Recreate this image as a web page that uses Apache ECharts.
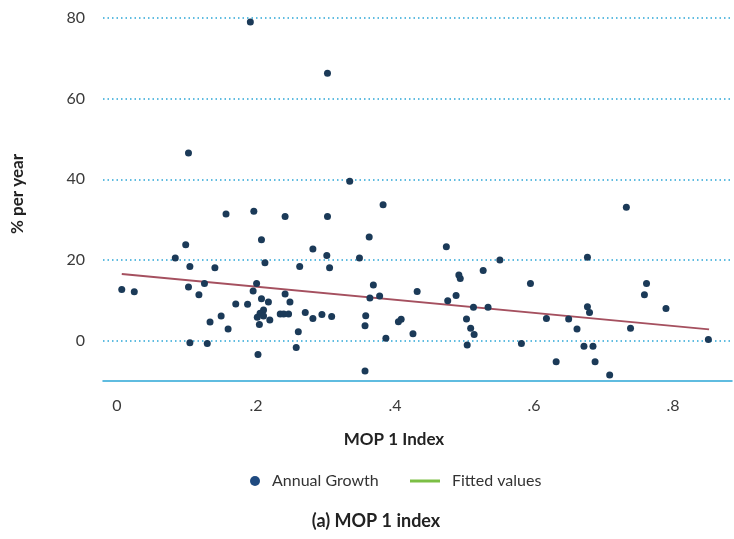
<!DOCTYPE html>
<html>
<head>
<meta charset="utf-8">
<script src="https://cdn.jsdelivr.net/npm/echarts@6/dist/echarts.min.js"></script>
<style>
  html, body { margin: 0; padding: 0; background: #fff; }
  #chart { width: 734px; height: 539px; }
</style>
</head>
<body>
<div id="chart"></div>
<script>
// MOP 1 index vs annual growth (% per year)
const mopIndex = [
  0.192, 0.303, 0.103, 0.335, 0.383, 0.197, 0.157, 0.242, 0.303, 0.733,
  0.363, 0.208, 0.099, 0.474, 0.282, 0.302, 0.677, 0.084, 0.349, 0.551,
  0.213, 0.105, 0.141, 0.263, 0.306, 0.527, 0.492, 0.494, 0.595, 0.762,
  0.126, 0.201, 0.369, 0.103, 0.007, 0.025, 0.432, 0.196, 0.242, 0.759,
  0.118, 0.488, 0.378, 0.364, 0.208, 0.218, 0.249, 0.476, 0.171, 0.188,
  0.677, 0.513, 0.534, 0.790, 0.211, 0.680, 0.271, 0.206, 0.235, 0.240,
  0.247, 0.295, 0.150, 0.211, 0.202, 0.309, 0.358, 0.282, 0.618, 0.503,
  0.650, 0.220, 0.409, 0.405, 0.134, 0.205, 0.357, 0.509, 0.662, 0.739,
  0.160, 0.261, 0.426, 0.514, 0.387, 0.851, 0.105, 0.130, 0.582, 0.504,
  0.672, 0.685, 0.258, 0.203, 0.632, 0.688, 0.357, 0.709
];
const annualGrowth = [
  79.0, 66.3, 46.5, 39.5, 33.7, 32.1, 31.4, 30.8, 30.8, 33.1,
  25.7, 25.0, 23.8, 23.3, 22.7, 21.1, 20.7, 20.5, 20.5, 20.0,
  19.3, 18.4, 18.1, 18.4, 18.1, 17.4, 16.3, 15.4, 14.2, 14.2,
  14.2, 14.2, 13.8, 13.3, 12.7, 12.1, 12.2, 12.3, 11.6, 11.4,
  11.4, 11.2, 11.1, 10.6, 10.4, 9.6, 9.6, 9.9, 9.1, 9.0,
  8.4, 8.3, 8.3, 8.0, 7.6, 7.0, 7.0, 6.8, 6.6, 6.6,
  6.6, 6.5, 6.1, 6.1, 5.8, 6.0, 6.2, 5.5, 5.5, 5.4,
  5.4, 5.1, 5.3, 4.7, 4.6, 4.0, 3.7, 3.1, 2.9, 3.1,
  2.9, 2.2, 1.7, 1.5, 0.6, 0.3, -0.5, -0.7, -0.7, -1.1,
  -1.4, -1.4, -1.7, -3.4, -5.2, -5.2, -7.5, -8.5
];
// Linear fit end points
const fittedX = [0.007, 0.852];
const fittedY = [16.5, 2.8];
// Labelled y ticks
const yTickLabels = [0, 20, 40, 60, 80];

const FONT = 'Lato';
const gridBlue = '#2ba6d6';
const legendText = { fontFamily: FONT, fontSize: 16, color: '#333', padding: [0, 0, 0, 7] };

const chart = echarts.init(document.getElementById('chart'), null, { renderer: 'canvas' });

chart.setOption({
  animation: false,
  backgroundColor: '#ffffff',
  grid: { left: 103, right: 2, top: 18, bottom: 158 },
  xAxis: {
    type: 'value',
    min: -0.02,
    max: 0.885,
    splitNumber: 5,
    axisLine: { show: true, onZero: false, lineStyle: { color: gridBlue, width: 1.5 } },
    axisTick: { show: false },
    splitLine: { show: false },
    axisLabel: {
      showMinLabel: false,
      showMaxLabel: false,
      margin: 17,
      color: '#3a3a3a',
      fontFamily: FONT,
      fontSize: 16,
      formatter: v => {
        const r = Math.round(v * 10) / 10;
        if (Math.abs(r - v) > 1e-6) return '';
        return r === 0 ? '0' : r.toFixed(1).replace(/^0/, '');
      }
    }
  },
  yAxis: {
    type: 'value',
    min: -10,
    max: 80,
    interval: 10,
    axisLine: { show: false },
    axisTick: { show: false },
    splitLine: {
      show: true,
      lineStyle: { color: ['transparent', gridBlue], width: 1.5, type: [1.5, 3] }
    },
    axisLabel: {
      margin: 18,
      color: '#3a3a3a',
      fontFamily: FONT,
      fontSize: 16,
      formatter: v => (yTickLabels.indexOf(v) >= 0 ? String(v) : '')
    }
  },
  legend: [
    {
      left: 245,
      top: 468,
      itemWidth: 10,
      itemHeight: 10,
      textStyle: legendText,
      data: [{ name: 'Annual Growth', icon: 'circle', itemStyle: { color: '#1f4a80' } }]
    },
    {
      left: 405,
      top: 468,
      itemWidth: 30,
      itemHeight: 10,
      textStyle: legendText,
      data: [{ name: 'Fitted values', icon: 'path://M0 0H30V3H0Z', itemStyle: { color: '#7cbf45' } }]
    }
  ],
  series: [
    {
      name: 'Annual Growth',
      type: 'scatter',
      symbolSize: 7,
      itemStyle: { color: '#1b3a58', opacity: 1 },
      data: mopIndex.map((x, i) => [x, annualGrowth[i]]),
      z: 3
    },
    {
      name: 'Fitted values',
      type: 'line',
      symbol: 'none',
      lineStyle: { color: '#a5505f', width: 2 },
      itemStyle: { color: '#a5505f' },
      data: fittedX.map((x, i) => [x, fittedY[i]]),
      z: 2
    }
  ],
  graphic: [
    {
      type: 'text', x: 18, y: 194, rotation: Math.PI / 2,
      style: { text: '% per year', font: 'bold 17px Lato', fill: '#222', textAlign: 'center', textVerticalAlign: 'middle' }
    },
    {
      type: 'text', x: 394, y: 440,
      style: { text: 'MOP 1 Index', font: 'bold 17px Lato', fill: '#222', textAlign: 'center', textVerticalAlign: 'middle' }
    },
    {
      type: 'text', x: 376, y: 521,
      style: { text: '(a) MOP 1 index', font: 'bold 18px Lato', fill: '#222', textAlign: 'center', textVerticalAlign: 'middle' }
    }
  ]
});
</script>
</body>
</html>
